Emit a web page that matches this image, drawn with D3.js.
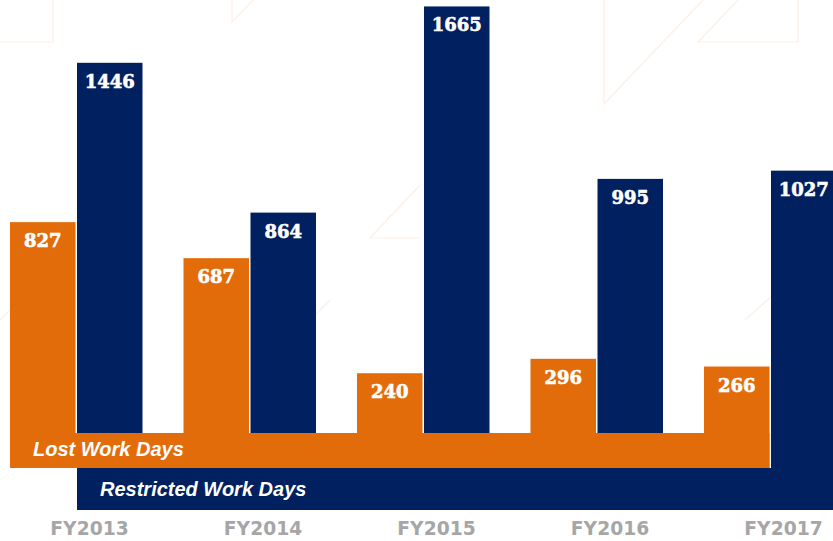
<!DOCTYPE html>
<html><head><meta charset="utf-8">
<script src="https://cdn.jsdelivr.net/npm/d3@7"></script>
<style>html,body{margin:0;padding:0;background:#fff;overflow:hidden}</style>
</head><body>
<svg id="c" width="833" height="541"></svg>
<script>
const categories = ["FY2013","FY2014","FY2015","FY2016","FY2017"];
const seriesNames = ["Lost Work Days","Restricted Work Days"];
const lostWorkDays = [827, 687, 240, 296, 266];
const restrictedWorkDays = [1446, 864, 1665, 995, 1027];
const colors = ["#E36C0A", "#002060"];

const svg = d3.select("#c");

// faint background decoration
const deco = svg.append("g").attr("fill","none").attr("stroke","#fdefe6").attr("stroke-width",1.2);
[
  [[0,42],[53,42],[53,0]],
  [[232,0],[232,22],[253,0]],
  [[604,0],[604,104],[703,0]],
  [[738,0],[698,42],[798,42],[798,0]],
  [[420,238],[370,238],[420,185]],
  [[0,320],[30,290]],
  [[745,320],[790,280]],
  [[330,300],[300,330]]
].forEach(p => deco.append("path").attr("d", d3.line()(p)));

const y = d3.scaleLinear().domain([0, 1690]).range([435, 0]);
const x0 = d3.scaleBand().domain(categories).range([10, 10 + 5*173.5]).paddingInner(0).paddingOuter(0);
const x1 = d3.scaleBand().domain(seriesNames).range([0, 132.5]).paddingInner(0.0224).paddingOuter(0);

const orangeBottom = y(0) + 33;
const navyBottom = orangeBottom + 42;

const rows = categories.map((c,i) => ({c, vals:[lostWorkDays[i], restrictedWorkDays[i]]}));

// navy bars (extend to bottom of navy band)
const g = svg.append("g");
g.selectAll("rect.nv").data(rows).join("rect")
  .attr("x", d => x0(d.c) + x1(seriesNames[1]))
  .attr("width", x1.bandwidth())
  .attr("y", d => y(d.vals[1]))
  .attr("height", d => navyBottom - y(d.vals[1]))
  .attr("fill", colors[1]);

// navy band
const navyX = x0(categories[0]) + x1(seriesNames[1]);
svg.append("rect").attr("x", navyX).attr("y", orangeBottom)
  .attr("width", 833 - navyX + 10).attr("height", navyBottom - orangeBottom).attr("fill", colors[1]);

// orange bars
g.selectAll("rect.or").data(rows).join("rect")
  .attr("x", d => x0(d.c) + x1(seriesNames[0]))
  .attr("width", x1.bandwidth())
  .attr("y", d => y(d.vals[0]))
  .attr("height", d => orangeBottom - y(d.vals[0]))
  .attr("fill", colors[0]);

// orange band
const orX = x0(categories[0]) + x1(seriesNames[0]);
const orEnd = x0(categories[4]) + x1(seriesNames[0]) + x1.bandwidth();
svg.append("rect").attr("x", orX).attr("y", y(0) - 2)
  .attr("width", orEnd - orX).attr("height", orangeBottom - y(0) + 2).attr("fill", colors[0]);

// value labels
const lab = svg.append("g").attr("font-family","'DejaVu Serif', serif").attr("font-weight","bold")
  .attr("font-size", 18).attr("fill","#fff").attr("stroke","#fff").attr("stroke-width",0.6)
  .attr("text-anchor","middle");
rows.forEach(d => {
  seriesNames.forEach((s,k) => {
    lab.append("text")
      .attr("x", x0(d.c) + x1(s) + x1.bandwidth()/2)
      .attr("y", y(d.vals[k]) + 25)
      .text(d.vals[k]);
  });
});

// series labels in bands
const leg = svg.append("g").attr("font-family","'Liberation Sans', Arial, sans-serif")
  .attr("font-weight","bold").attr("font-style","italic").attr("font-size",20).attr("fill","#fff");
leg.append("text").attr("x", orX + 23).attr("y", orangeBottom - 12.5).text(seriesNames[0]);
leg.append("text").attr("x", navyX + 23).attr("y", navyBottom - 14).text(seriesNames[1]);

// category labels
svg.append("g").selectAll("text").data(categories).join("text")
  .attr("x", c => x0(c) + 79.5)
  .attr("y", navyBottom + 25)
  .attr("text-anchor","middle")
  .attr("font-family","'DejaVu Sans', sans-serif")
  .attr("font-weight","bold").attr("font-size",18.7).attr("fill","#A6A6A6")
  .text(c => c);
</script>
</body></html>
